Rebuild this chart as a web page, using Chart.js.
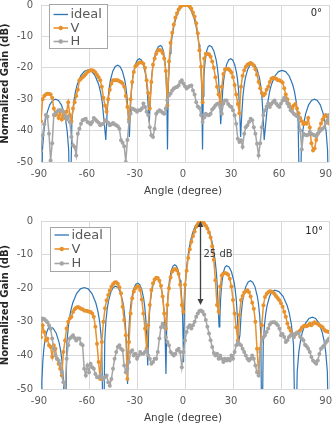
<!DOCTYPE html>
<html>
<head>
<meta charset="utf-8">
<script src="https://cdn.jsdelivr.net/npm/chart.js@4"></script>
<style>
  html, body { margin: 0; padding: 0; background: #ffffff; }
  #wrap { position: relative; width: 333px; height: 425px; }
  canvas { position: absolute; left: 0; display: block; }
  #c1 { top: 0; }
  #c2 { top: 212px; }
</style>
</head>
<body>
<div id="wrap">
  <canvas id="c1" width="333" height="212" style="width:333px;height:212px"></canvas>
  <canvas id="c2" width="333" height="213" style="width:333px;height:213px"></canvas>
</div>
<script>
// ---- axis ticks and labels ----
const X_TICKS = [-90, -60, -30, 0, 30, 60, 90];
const Y_TICKS = [0, -10, -20, -30, -40, -50];
const X_TITLE = 'Angle (degree)';
const Y_TITLE = 'Normalized Gain (dB)';
const SERIES_NAMES = ['ideal', 'V', 'H'];

// measured samples are taken every degree from -90 to 90
const ANGLES = Array.from({ length: 181 }, (_, i) => i - 90);

// ---- panel 1: beam at 0 deg ----
const IDEAL1_ANGLE = [
  -90,
  -89.09, -88.18, -87.27, -86.36, -84.54, -82.72, -80.9, -79.08, -77.26, -75.44, -74.53, -73.62, -72.71,
  -71.8,
  -70.69, -69.57, -68.46, -67.34, -65.11, -62.88, -60.65, -58.42, -56.19, -53.96, -52.85, -51.73, -50.62,
  -49.5,
  -48.76, -48.03, -47.29, -46.55, -45.08, -43.6, -42.13, -40.65, -39.18, -37.7, -36.96, -36.23, -35.49,
  -34.75,
  -34.13, -33.51, -32.88, -32.26, -31.02, -29.77, -28.53, -27.28, -26.04, -24.79, -24.17, -23.55, -22.92,
  -22.3,
  -21.6, -20.89, -20.19, -19.49, -18.08, -16.67, -15.26, -14.4, -13.54, -12.68, -12.24, -11.81, -11.38,
  -10.95,
  -10.4, -9.86, -9.31, -8.76, -7.67, -6.57, -5.48, -4.38, -3.29, -2.19, -1.1, 0,
  1.1, 2.19, 3.29, 4.38, 5.48, 6.57, 7.67, 8.76, 9.31, 9.86, 10.4,
  10.95,
  11.38, 11.81, 12.24, 12.68, 13.54, 14.4, 15.26, 16.67, 18.08, 19.49, 20.19, 20.89, 21.6,
  22.3,
  22.92, 23.55, 24.17, 24.79, 26.04, 27.28, 28.53, 29.77, 31.02, 32.26, 32.88, 33.51, 34.13,
  34.75,
  35.49, 36.23, 36.96, 37.7, 39.18, 40.65, 42.13, 43.6, 45.08, 46.55, 47.29, 48.03, 48.76,
  49.5,
  50.62, 51.73, 52.85, 53.96, 56.19, 58.42, 60.65, 62.88, 65.11, 67.34, 68.46, 69.57, 70.69,
  71.8,
  72.71, 73.62, 74.53, 75.44, 77.26, 79.08, 80.9, 82.72, 84.54, 86.36, 87.27, 88.18, 89.09,
  90
];
const IDEAL1_GAIN = [
  -70,
  -46.1, -40.2, -36.9, -34.6, -31.8, -30.4, -30, -30.4, -31.8, -34.6, -36.9, -40.2, -46.1,
  -70,
  -36.8, -30.9, -27.6, -25.3, -22.5, -21.1, -20.7, -21.1, -22.5, -25.3, -27.6, -30.9, -36.8,
  -43,
  -35.3, -29.4, -26.1, -23.8, -21, -19.6, -19.2, -19.6, -21, -23.8, -26.1, -29.4, -35.3,
  -42,
  -33.2, -27.3, -24, -21.7, -18.9, -17.5, -17.1, -17.5, -18.9, -21.7, -24, -27.3, -33.2,
  -37.5,
  -29, -23.1, -19.8, -17.5, -14.7, -13.3, -12.9, -13.3, -14.7, -17.5, -19.8, -23.1, -29,
  -46,
  -25.6, -19.3, -15.4, -12.6, -8.7, -5.9, -3.9, -2.4, -1.3, -0.6, -0.1, 0,
  -0.1, -0.6, -1.3, -2.4, -3.9, -5.9, -8.7, -12.6, -15.4, -19.3, -25.6,
  -46,
  -29, -23.1, -19.8, -17.5, -14.7, -13.3, -12.9, -13.3, -14.7, -17.5, -19.8, -23.1, -29,
  -38,
  -33.2, -27.3, -24, -21.7, -18.9, -17.5, -17.1, -17.5, -18.9, -21.7, -24, -27.3, -33.2,
  -42,
  -34.8, -28.9, -25.6, -23.3, -20.5, -19.1, -18.7, -19.1, -20.5, -23.3, -25.6, -28.9, -34.8,
  -43,
  -36.9, -31, -27.7, -25.4, -22.6, -21.2, -20.8, -21.2, -22.6, -25.4, -27.7, -31, -36.9,
  -70,
  -46.1, -40.2, -36.9, -34.6, -31.8, -30.4, -30, -30.4, -31.8, -34.6, -36.9, -40.2, -46.1,
  -70
];
const V1_GAIN = [
  -37, -30, -29, -28.5, -28.3, -28.3, -28.5, -29.5, -33, -35,
  -34, -36, -34, -36.5, -35, -36, -34, -31, -35, -37,
  -33, -31, -29, -27, -24, -23.5, -23, -22.5, -22, -21.3,
  -21, -20.8, -20.8, -21, -21.5, -22.3, -23, -24, -26, -29.5,
  -32, -34, -30, -27, -25, -24, -24, -24, -24, -24.3,
  -24.5, -25, -26, -29, -32.5, -36.5, -30, -24.5, -21.3, -19.5,
  -19, -18.5, -18.2, -18.3, -18.7, -20, -24, -28, -33, -24.5,
  -19, -17, -15.5, -14.5, -14.3, -14.5, -15.3, -17, -21, -32,
  -18, -12, -8.8, -6.2, -4, -2.6, -1.4, -0.6, -0.2, 0,
  0, 0, -0.1, -0.5, -1.2, -2.4, -3.7, -5.8, -9, -14.4,
  -19.7, -31, -17, -15.5, -15.5, -15.7, -16.5, -18, -20, -23,
  -26, -28.5, -31, -26, -22, -20.5, -20.3, -20.3, -20.8, -21.5,
  -23, -25.5, -28.5, -31.5, -34.5, -26, -22.5, -20.8, -19.7, -19,
  -18.7, -18.5, -18.8, -19.3, -20.5, -22.2, -24.5, -26.5, -28, -28.8,
  -28.3, -27, -26, -24.5, -23.5, -23.2, -23.3, -23.5, -24, -24,
  -24.3, -24.7, -26.5, -28.5, -30, -31.5, -32.5, -33, -32, -31.5,
  -33, -34.5, -36, -37, -38, -37.5, -37.8, -36, -39, -44,
  -46.3, -45.7, -43, -41, -39.5, -37.7, -36.5, -35.5, -35, -35.5, -37.7
];
const H1_GAIN = [
  -46.5, -41.5, -38, -35, -35.5, -41, -49.5, -44, -35, -34.5,
  -34, -33.5, -33.5, -33.5, -34, -35.5, -36.5, -35.5, -37.3, -42,
  -44.7, -45.2, -47.9, -41, -39.4, -37.8, -36.7, -36.5, -36.2, -37.3,
  -37.5, -38, -37.3, -36, -36.5, -37, -37.5, -38.3, -38, -37.8,
  -36.7, -37, -37.5, -38.3, -38, -37.6, -38, -38.3, -38.6, -39.4,
  -43.1, -43.9, -45, -50, -43, -37.3, -34.6, -33, -33.2, -33.5,
  -34, -33.5, -33.5, -33, -31.4, -32.5, -34, -35, -38.9, -41.5,
  -42, -39.4, -34.6, -34, -33.5, -33.8, -34.3, -34.6, -33, -30.4,
  -28.8, -28.2, -27.2, -26.6, -26.3, -26.1, -25.6, -24.5, -24, -25,
  -25.9, -26.6, -26.1, -25.8, -25.6, -27.2, -28.5, -31, -32.3, -32.8,
  -35, -37.3, -35.8, -34.6, -35, -35.1, -34.6, -33.3, -32.7, -32,
  -31.5, -31.4, -32.5, -34.6, -31.4, -30.4, -30.4, -31.5, -32.2, -32.5,
  -33.5, -35.1, -37.8, -42.6, -43.6, -43.1, -45.2, -41, -38.9, -38.3,
  -37.3, -36.2, -36.7, -38.9, -41, -44.2, -47.9, -44, -38.9, -35.1,
  -33.5, -32.3, -31.4, -32.5, -31.5, -30.9, -30.4, -31.4, -32, -32.5,
  -31.4, -30.4, -29.5, -30.4, -31.4, -32.3, -33.5, -34, -34.6, -35,
  -35.4, -35.7, -40, -46, -41, -41.3, -41.5, -41.3, -40.4, -41,
  -41.3, -41.5, -41.8, -41, -40.3, -39.8, -39.4, -38.9, -37.5, -36.7, -35
];

// ---- panel 2: beam steered to 10 deg ----
const IDEAL2_ANGLE = [
  -90,
  -89.43, -88.86, -88.29, -87.72, -86.58, -85.44, -84.3, -82.44, -80.58, -78.72, -77.79, -76.86, -75.93,
  -75,
  -73.8, -72.59, -71.39, -70.18, -67.77, -65.36, -62.95, -60.54, -58.13, -55.72, -54.52, -53.31, -52.11,
  -50.9,
  -50.15, -49.4, -48.65, -47.9, -46.4, -44.9, -43.4, -41.9, -40.4, -38.9, -38.15, -37.4, -36.65,
  -35.9,
  -35.27, -34.64, -34.01, -33.38, -32.12, -30.86, -29.6, -28.34, -27.08, -25.82, -25.19, -24.56, -23.93,
  -23.3,
  -22.73, -22.16, -21.59, -21.02, -19.88, -18.74, -17.6, -16.46, -15.32, -14.18, -13.61, -13.04, -12.47,
  -11.9,
  -11.35, -10.8, -10.25, -9.7, -8.6, -7.5, -6.4, -5.3, -4.2, -3.1, -2.55, -2, -1.45,
  -0.9,
  -0.36, 0.19, 0.74, 1.28, 2.37, 3.46, 4.55, 5.64, 6.73, 7.82, 8.91, 10,
  11.13, 12.26, 13.39, 14.52, 15.65, 16.78, 17.91, 19.04, 19.6, 20.17, 20.74,
  21.3,
  21.77, 22.23, 22.7, 23.17, 24.1, 25.04, 25.97, 27.5, 29.02, 30.55, 31.31, 32.07, 32.84,
  33.6,
  34.33, 35.05, 35.78, 36.5, 37.95, 39.4, 40.85, 42.3, 43.75, 45.2, 45.93, 46.65, 47.38,
  48.1,
  48.9, 49.7, 50.49, 51.29, 52.89, 54.48, 56.08, 58.68, 61.29, 63.89, 65.19, 66.5, 67.8,
  69.1,
  70.15, 71.19, 72.24, 73.28, 75.37, 77.46, 79.55, 81.64, 83.73, 85.82, 86.87, 87.91, 88.96,
  90
];
const IDEAL2_GAIN = [
  -70,
  -47.6, -41.7, -38.4, -36.1, -33.3, -31.9, -31.5, -31.9, -33.3, -36.1, -38.4, -41.7, -47.6,
  -70,
  -35.9, -30, -26.7, -24.4, -21.6, -20.2, -19.8, -20.2, -21.6, -24.4, -26.7, -30, -35.9,
  -70,
  -35.5, -29.6, -26.3, -24, -21.2, -19.8, -19.4, -19.8, -21.2, -24, -26.3, -29.6, -35.5,
  -48.5,
  -34.6, -28.7, -25.4, -23.1, -20.3, -18.9, -18.5, -18.9, -20.3, -23.1, -25.4, -28.7, -34.6,
  -43,
  -33.1, -27.2, -23.9, -21.6, -18.8, -17.4, -17, -17.4, -18.8, -21.6, -23.9, -27.2, -33.1,
  -45.5,
  -29.1, -23.2, -19.9, -17.6, -14.8, -13.4, -13, -13.4, -14.8, -17.6, -19.9, -23.2, -29.1,
  -42,
  -25.6, -19.3, -15.4, -12.6, -8.7, -5.9, -3.9, -2.4, -1.3, -0.6, -0.1, 0,
  -0.1, -0.6, -1.3, -2.4, -3.9, -5.9, -8.7, -12.6, -15.4, -19.3, -25.6,
  -31.5,
  -29.4, -23.5, -20.2, -17.9, -15.1, -13.7, -13.3, -13.7, -15.1, -17.9, -20.2, -23.5, -29.4,
  -36,
  -33.9, -28, -24.7, -22.4, -19.6, -18.2, -17.8, -18.2, -19.6, -22.4, -24.7, -28, -33.9,
  -70,
  -36.7, -30.8, -27.5, -25.2, -22.4, -21, -20.6, -21, -22.4, -25.2, -27.5, -30.8, -36.7,
  -70,
  -44.7, -38.8, -35.5, -33.2, -30.4, -29, -28.6, -29, -30.4, -33.2, -35.5, -38.8, -44.7,
  -70
];
const V2_GAIN = [
  -34.6, -31, -33, -35.6, -35, -37, -37.5, -40.5, -37, -38,
  -41, -42.5, -44, -46, -39, -35.6, -32, -30, -29, -28.5,
  -27.1, -26.3, -25.8, -25.6, -25.8, -26.1, -26.3, -26.6, -26.7, -26.8,
  -27, -27.1, -27.5, -28.5, -31.5, -36.5, -42, -47, -36, -30,
  -26, -23.6, -22, -20.7, -19.6, -18.8, -18.3, -18.2, -18.7, -19.7,
  -21.5, -25.5, -29.5, -34, -47, -36, -27.5, -23, -21, -20,
  -19.5, -19.5, -20.5, -23.4, -27.5, -32, -38, -31, -25, -20.5,
  -18.5, -17.4, -16.9, -17, -17.8, -19.3, -22.5, -27.5, -32, -25,
  -20, -16.8, -15, -14.4, -14.3, -14.7, -15.8, -19, -25, -27,
  -19, -14.8, -11, -8.4, -6.2, -4.5, -3.1, -1.7, -1, -0.4,
  0, -0.2, -0.8, -1.4, -2.2, -3.4, -4.9, -7.5, -11.5, -17.6,
  -25, -27, -19.5, -16.2, -15.6, -15.5, -15.6, -16, -17.2, -19.5,
  -23.5, -27.5, -31.6, -35.6, -28, -23.5, -22.3, -21.3, -20.9, -20.6,
  -21.2, -22.5, -24.3, -26.1, -30, -38, -45, -38, -31, -25.1,
  -22.6, -21.7, -21.2, -20.9, -21, -21.3, -21.7, -22.4, -23, -23.6,
  -24.5, -25.5, -27, -28.5, -30.5, -31.8, -32.7, -33.6, -34.1, -33.8,
  -33.3, -33, -32.5, -31.8, -31.3, -31.1, -31.3, -31, -30.6, -31,
  -30.5, -30.1, -30.4, -30.6, -31, -31.3, -31.6, -32.4, -32.8, -32.9, -33
];
const H2_GAIN = [
  -29.6, -29, -29.2, -29.6, -30.1, -31, -32.1, -35, -38, -40,
  -41, -41.5, -42.5, -45, -48, -50.5, -41, -37, -35, -34.5,
  -34, -34.8, -35.6, -35, -35, -36.6, -37, -44, -46, -43,
  -45, -42.5, -43.5, -44, -45.5, -46.5, -46.5, -46, -46.5, -47,
  -46.5, -46, -48, -49, -47, -44, -41, -39, -37.5, -37,
  -38, -38.5, -43, -45, -44, -42, -39, -38.5, -40, -39.5,
  -41, -40, -39, -39.5, -39.5, -39, -38.5, -40, -41, -42.5,
  -42, -41, -41, -39, -35, -31.6, -30.6, -31.6, -34.6, -36,
  -37, -39, -39.5, -40, -39.5, -38.5, -38, -39, -43.5, -39,
  -35.6, -33, -31.6, -31, -32, -31, -30, -28.5, -27.5, -26.8,
  -26.6, -27, -27.8, -29.5, -31.5, -33.5, -35.5, -37.5, -39.3, -40,
  -39.5, -41, -40, -41, -42, -41, -41.5, -41, -41.5, -40,
  -41, -39, -37, -36, -36.6, -37, -38, -39, -40, -41,
  -41.5, -41, -40, -41, -43, -45, -46, -39, -35.6, -34.6,
  -34, -33, -32, -30.8, -30.2, -30.1, -30.1, -30.5, -31, -32,
  -34, -33.6, -34.5, -36, -35.5, -34.5, -34, -33.6, -34.6, -33.6,
  -33.2, -33.5, -34.5, -35, -35.5, -36.8, -37.3, -38, -39, -40.5,
  -41.5, -42, -42.5, -41.5, -39.6, -38, -37.5, -37, -36.2, -35.6, -35
];

// ---- styling ----
const FONT = '"DejaVu Sans", Verdana, sans-serif';
const BLUE = '#2E75B6';
const ORANGE = '#E8922E';
const GRAY = '#A5A5A5';
const GRID = '#D9D9D9';
const TICK_COLOR = '#595959';
const TEXT_COLOR = '#404040';

function pairs(xs, ys) {
  const n = Math.min(xs.length, ys.length);
  const out = [];
  for (let i = 0; i < n; i++) out.push({ x: xs[i], y: ys[i] });
  return out;
}

// Draws the x tick labels, x title, legend, corner label and optional arrow note.
function panelDecor(p) {
  return {
    id: 'panelDecor',
    afterDraw(chart) {
      const { ctx, chartArea } = chart;
      const xs = chart.scales.x, ys = chart.scales.y;
      ctx.save();

      // x tick labels (the last one is kept inside the canvas)
      ctx.font = '10px ' + FONT;
      ctx.fillStyle = TICK_COLOR;
      ctx.textAlign = 'center';
      ctx.textBaseline = 'middle';
      X_TICKS.forEach(v => {
        const s = String(v);
        const w = ctx.measureText(s).width;
        let px = xs.getPixelForValue(v) - 2;
        px = Math.min(px, chart.width - 1 - w / 2);
        ctx.fillText(s, px, chartArea.bottom + 12.5);
      });

      // x title
      ctx.fillStyle = TEXT_COLOR;
      ctx.font = '10.5px ' + FONT;
      ctx.fillText(X_TITLE, (chartArea.left + chartArea.right) / 2 - 2, chartArea.bottom + 29);

      // steering angle label
      ctx.textAlign = 'right';
      ctx.font = '10px ' + FONT;
      ctx.fillStyle = '#262626';
      ctx.fillText(p.corner, p.cornerX, p.cornerY);

      // legend
      const L = p.legend;
      ctx.fillStyle = '#ffffff';
      ctx.fillRect(L.x, L.y, L.w, L.h);
      ctx.strokeStyle = '#A6A6A6';
      ctx.lineWidth = 1;
      ctx.strokeRect(L.x + 0.5, L.y + 0.5, L.w, L.h);
      const colors = [BLUE, ORANGE, GRAY];
      SERIES_NAMES.forEach((name, i) => {
        const ry = L.rows[i];
        ctx.strokeStyle = colors[i];
        ctx.lineWidth = i === 0 ? 1.3 : 1.6;
        ctx.beginPath();
        ctx.moveTo(L.x + 4.5, ry);
        ctx.lineTo(L.x + 19, ry);
        ctx.stroke();
        if (i > 0) {
          ctx.fillStyle = colors[i];
          ctx.beginPath();
          ctx.arc(L.x + 11.75, ry, 2.2, 0, Math.PI * 2);
          ctx.fill();
        }
        ctx.fillStyle = TICK_COLOR;
        ctx.textAlign = 'left';
        ctx.font = '13px ' + FONT;
        ctx.fillText(name, L.x + 21.5, ry + 0.5);
      });

      // double arrow between main beam peak and cross-pol peak
      if (p.arrow) {
        const a = p.arrow;
        const ax = Math.round(xs.getPixelForValue(a.x)) + 0.5;
        const y0 = ys.getPixelForValue(a.from);
        const y1 = ys.getPixelForValue(a.to);
        ctx.strokeStyle = TEXT_COLOR;
        ctx.fillStyle = TEXT_COLOR;
        ctx.lineWidth = 1.3;
        ctx.beginPath();
        ctx.moveTo(ax, y0 + 5);
        ctx.lineTo(ax, y1 - 5);
        ctx.stroke();
        ctx.beginPath();
        ctx.moveTo(ax, y0); ctx.lineTo(ax - 3, y0 + 6); ctx.lineTo(ax + 3, y0 + 6); ctx.closePath();
        ctx.fill();
        ctx.beginPath();
        ctx.moveTo(ax, y1); ctx.lineTo(ax - 3, y1 - 6); ctx.lineTo(ax + 3, y1 - 6); ctx.closePath();
        ctx.fill();
        ctx.textAlign = 'left';
        ctx.font = '10px ' + FONT;
        ctx.fillText(a.text, ax + 3, ys.getPixelForValue(a.textAt));
      }
      ctx.restore();
    }
  };
}

function makePanel(canvas, p) {
  const H = canvas.height;
  return new Chart(canvas, {
    type: 'line',
    data: {
      datasets: [
        {
          label: SERIES_NAMES[0], data: pairs(p.idealX, p.idealY),
          borderColor: BLUE, borderWidth: 1.2, pointRadius: 0, tension: 0, order: 3
        },
        {
          label: SERIES_NAMES[1], data: pairs(ANGLES, p.v),
          borderColor: ORANGE, backgroundColor: ORANGE, borderWidth: 1.5,
          pointRadius: 2, pointBorderWidth: 0, pointBackgroundColor: ORANGE, tension: 0, order: 2
        },
        {
          label: SERIES_NAMES[2], data: pairs(ANGLES, p.h),
          borderColor: GRAY, backgroundColor: GRAY, borderWidth: 1.5,
          pointRadius: 2, pointBorderWidth: 0, pointBackgroundColor: GRAY, tension: 0, order: 1
        }
      ]
    },
    options: {
      responsive: false,
      animation: false,
      events: [],
      layout: { padding: { left: 0, right: 3, top: p.top, bottom: 0 } },
      plugins: { legend: { display: false }, tooltip: { enabled: false } },
      scales: {
        x: {
          type: 'linear', min: -90, max: 90,
          ticks: { display: false, stepSize: 30 },
          grid: { color: GRID, lineWidth: 1, drawTicks: false },
          border: { display: false },
          afterFit(s) { s.height = H - p.bottom; s.paddingLeft = 0; s.paddingRight = 0; }
        },
        y: {
          type: 'linear', min: -50, max: 0,
          afterBuildTicks(s) { s.ticks = Y_TICKS.map(v => ({ value: v })); },
          ticks: { font: { family: FONT, size: 10 }, color: TICK_COLOR, padding: 8 },
          grid: { color: GRID, lineWidth: 1, drawTicks: false },
          border: { display: false },
          title: {
            display: true, text: Y_TITLE, color: '#262626',
            font: { family: FONT, size: 10, weight: 'bold', lineHeight: 1 },
            padding: { top: 0, bottom: 0 }
          },
          afterFit(s) { s.width = 41; s.paddingTop = 0; s.paddingBottom = 0; }
        }
      }
    },
    plugins: [panelDecor(p)]
  });
}

makePanel(document.getElementById('c1'), {
  idealX: IDEAL1_ANGLE, idealY: IDEAL1_GAIN, v: V1_GAIN, h: H1_GAIN,
  top: 5, bottom: 162,
  corner: '0°', cornerX: 322, cornerY: 13,
  legend: { x: 49, y: 4, w: 58, h: 44, rows: [14.5, 28, 41.5] }
});

makePanel(document.getElementById('c2'), {
  idealX: IDEAL2_ANGLE, idealY: IDEAL2_GAIN, v: V2_GAIN, h: H2_GAIN,
  top: 9, bottom: 177,
  corner: '10°', cornerX: 323, cornerY: 19.5,
  legend: { x: 50, y: 15, w: 60, h: 44, rows: [23, 37, 51.5] },
  arrow: { x: 9.5, from: 0, to: -25, text: '25 dB', textAt: -9.8 }
});
</script>
</body>
</html>
